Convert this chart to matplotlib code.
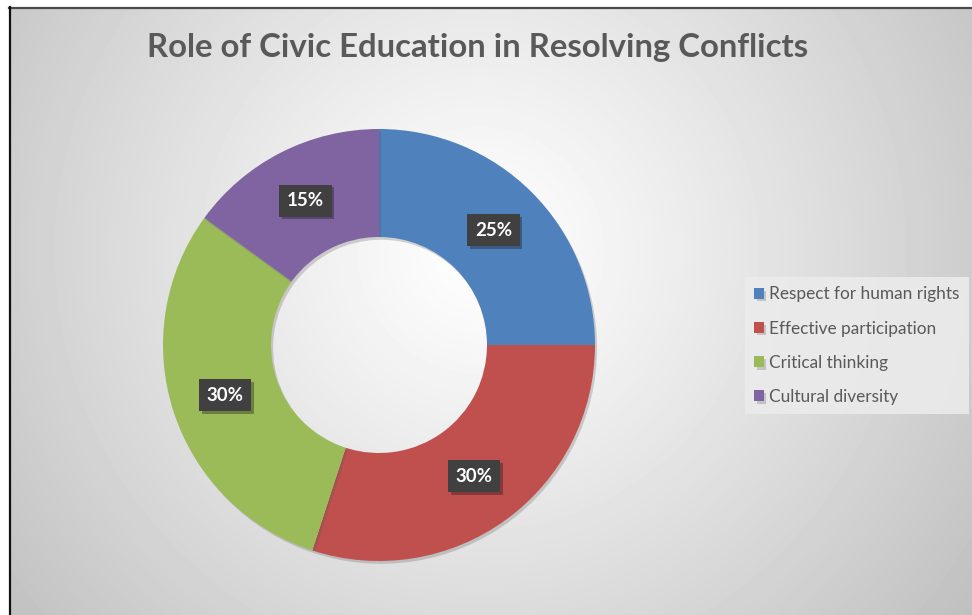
import numpy as np
import matplotlib
matplotlib.use("Agg")
import matplotlib.pyplot as plt
import matplotlib.patheffects as pe
from matplotlib.lines import Line2D

# data
categories = ["Respect for human rights", "Effective participation",
              "Critical thinking", "Cultural diversity"]
shares = [25, 30, 30, 15]
colors = ["#4F81BD", "#C0504D", "#9BBB59", "#8064A2"]
title = "Role of Civic Education in Resolving Conflicts"

W, H = 972, 615
fig = plt.figure(figsize=(W / 100, H / 100), dpi=100, facecolor="white")

# chart area background: radial grey gradient
bx0, by0 = 9, 7
bw, bh = W - bx0, H - by0
bg = fig.add_axes([bx0 / W, 0, bw / W, bh / H])
yy, xx = np.mgrid[0:bh, 0:bw]
cx, cy = 480 - bx0, 250 - by0
d = np.sqrt((xx - cx) ** 2 + (yy - cy) ** 2)
d = d / d.max()
val = 1.0 - 0.25 * d ** 1.1
bg.imshow(val, cmap="gray", vmin=0, vmax=1, aspect="auto",
          extent=[0, bw, bh, 0], interpolation="bilinear")
bg.set_axis_off()

# dark edge lines (top and left)
fig.add_artist(Line2D([bx0 / W, 1], [1 - (by0 + 0.5) / H] * 2,
                      transform=fig.transFigure, color="#4a4a4a", lw=1.6))
fig.add_artist(Line2D([(bx0 + 0.5) / W] * 2, [0, 1 - by0 / H],
                      transform=fig.transFigure, color="#111111", lw=1.6))

# donut
pcx, pcy, r = 379, 345, 216
ax = fig.add_axes([(pcx - r) / W, (H - pcy - r) / H, 2 * r / W, 2 * r / H])
ax.set_facecolor("none")
wedges, texts, autotexts = ax.pie(
    shares, colors=colors, startangle=90, counterclock=False,
    radius=1.0, wedgeprops=dict(width=0.5, linewidth=0),
    autopct="%d%%", pctdistance=0.75)
for w in wedges:
    w.set_path_effects([pe.SimplePatchShadow(offset=(1.5, -2), alpha=0.25,
                                             shadow_rgbFace="#555555"),
                        pe.Normal()])
for t in autotexts:
    t.set_color("white")
    t.set_fontfamily("Lato")
    t.set_fontweight("bold")
    t.set_fontsize(13.5)
    t.set_bbox(dict(boxstyle="square,pad=0.4", fc="#404040", ec="none"))
    t.get_bbox_patch().set_path_effects(
        [pe.SimplePatchShadow(offset=(2, -2), alpha=0.35), pe.Normal()])
ax.set_xlim(-1, 1)
ax.set_ylim(-1, 1)
ax.set_axis_off()

# title
fig.text(478 / W, 1 - 47 / H, title, ha="center", va="center",
         fontsize=23.7, fontweight="bold", fontfamily="Lato", color="#595959")

# legend
leg = fig.legend(wedges, categories, loc="upper left",
                 bbox_to_anchor=(745 / W, 1 - 277 / H),
                 frameon=True, fancybox=False, facecolor="#ebebeb",
                 edgecolor="none", framealpha=0.9,
                 prop=dict(family="Lato", size=12.4),
                 handlelength=0.55, handleheight=0.55, handletextpad=0.3,
                 labelspacing=1.05, borderpad=0.55, borderaxespad=0)
for t in leg.get_texts():
    t.set_color("#595959")

fig.savefig("out.png", dpi=100, facecolor="white")
